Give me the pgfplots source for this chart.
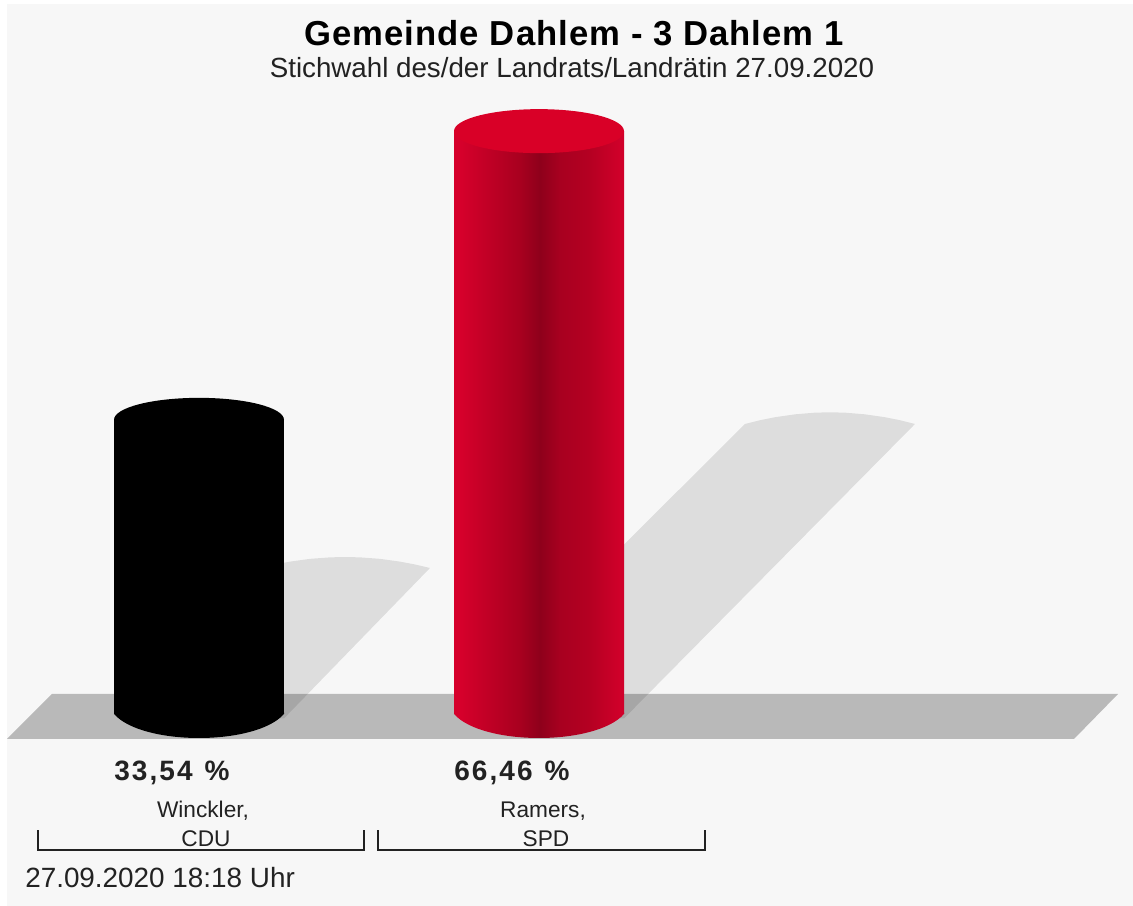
\documentclass[border=0pt]{standalone}
\usepackage{pgfplots}
\pgfplotsset{compat=1.18}
\usepackage{fontspec}
\setmainfont{Liberation Sans}
\newfontfamily\spaced[LetterSpace=3.0]{Liberation Sans}
\newfontfamily\spacedv[LetterSpace=7.5]{Liberation Sans}
\definecolor{bgc}{HTML}{F7F7F7}
\definecolor{floorc}{HTML}{B9B9B9}
\definecolor{redtop}{HTML}{D90027}
\definecolor{txt}{HTML}{222222}
\definecolor{ra}{HTML}{D6002B}
\definecolor{rb}{HTML}{BF0025}
\definecolor{rc}{HTML}{A8001F}
\definecolor{rd}{HTML}{8E001B}
\definecolor{re}{HTML}{A80020}
\definecolor{rf}{HTML}{B50022}
\definecolor{rg}{HTML}{D0002A}
\pgfdeclarehorizontalshading{redcyl}{100bp}{
  color(0bp)=(ra); color(26.8bp)=(ra);
  color(35.6bp)=(rb);
  color(44.4bp)=(rc);
  color(50.3bp)=(rd);
  color(56.2bp)=(re);
  color(65bp)=(rf);
  color(73.8bp)=(rg); color(100bp)=(rg)}
% ends of the cylinders (1 px = 0.75 pt): top is an ellipse, base a shallow lens
\pgfdeclareplotmark{cyltopred}{\pgfpathellipse{\pgfpointorigin}{\pgfqpoint{63.75pt}{0pt}}{\pgfqpoint{0pt}{16.5pt}}\pgfsetfillcolor{redtop}\pgfusepath{fill}}
\pgfdeclareplotmark{cyltopblack}{\pgfpathellipse{\pgfpointorigin}{\pgfqpoint{63.75pt}{0pt}}{\pgfqpoint{0pt}{16.5pt}}\pgfsetfillcolor{black}\pgfusepath{fill}}
\def\cylbasepath{\pgfpathmoveto{\pgfqpoint{-63.75pt}{1pt}}\pgfpathlineto{\pgfqpoint{-63.75pt}{0pt}}\pgfpathcurveto{\pgfqpoint{-42.5pt}{-24pt}}{\pgfqpoint{42.5pt}{-24pt}}{\pgfqpoint{63.75pt}{0pt}}\pgfpathlineto{\pgfqpoint{63.75pt}{1pt}}\pgfpathclose}
\pgfdeclareplotmark{cylbaseblack}{\cylbasepath\pgfsetfillcolor{black}\pgfusepath{fill}}
\pgfdeclareplotmark{cylbasered}{\cylbasepath\pgfshadepath{redcyl}{0}\pgfusepath{discard}}
\begin{document}
\begin{tikzpicture}
\begin{axis}[
  scale only axis, width=849.75pt, height=679.5pt,
  xmin=0, xmax=1133, ymin=-21.893, ymax=81.414,
  hide axis, clip=false, clip mode=individual,
  bar width=170, bar shift=0pt,
]
% page and panel
\addplot[fill=white, draw=none] coordinates {(0,-21.893) (1133,-21.893) (1133,81.414) (0,81.414)} -- cycle;
\addplot[fill=bgc, draw=none] coordinates {(7,-21.893) (1133,-21.893) (1133,80.96) (7,80.96)} -- cycle;
% floor
\addplot[fill=floorc, draw=none] coordinates {(7,-2.85) (52,2.28) (1118,2.28) (1074,-2.85)} -- cycle;
% shadows (half the height of the bar, slanted 45 degrees)
\addplot[fill=black, fill opacity=0.1, draw=none] coordinates {
 (114,0) (260,16.65) (275,17.05) (290,17.375) (310,17.69) (330,17.86) (345,17.9) (360,17.86) (380,17.69) (400,17.375) (415,17.05) (430,16.65) (284,-0.5)} -- cycle;
\addplot[fill=black, fill opacity=0.1, draw=none] coordinates {
 (454,0) (745,33.07) (760,33.5) (775,33.84) (795,34.17) (815,34.36) (830,34.4) (845,34.36) (865,34.17) (885,33.84) (900,33.5) (915,33.07) (624,-0.5)} -- cycle;
% black cylinder
\addplot[only marks, mark=cylbaseblack, mark options={draw=none}] coordinates {(199,0)};
\addplot[ybar, fill=black, draw=none] coordinates {(199,33.54)};
\addplot[only marks, mark=cyltopblack, mark options={draw=none}] coordinates {(199,33.54)};
% red cylinder
\addplot[only marks, mark=cylbasered, mark options={draw=none}] coordinates {(539,0)};
\addplot[ybar, shade, shading=redcyl, draw=none] coordinates {(539,66.46)};
\addplot[only marks, mark=cyltopred, mark options={draw=none}] coordinates {(539,66.46)};
% brackets
\addplot[txt, line width=1.1pt] coordinates {(38,-13.23) (38,-15.5) (364,-15.5) (364,-13.23)};
\addplot[txt, line width=1.1pt] coordinates {(378,-13.23) (378,-15.5) (705,-15.5) (705,-13.23)};
% text
\node[anchor=center, text=black, font=\fontsize{26pt}{30pt}\spaced\bfseries] at (axis cs:574,77.65) {Gemeinde Dahlem - 3 Dahlem 1};
\node[anchor=center, text=txt, font=\fontsize{20.8pt}{24pt}\selectfont] at (axis cs:572,73.65) {Stichwahl des/der Landrats/Landrätin 27.09.2020};
\node[anchor=west, inner sep=0pt, text=txt, font=\fontsize{21pt}{24pt}\spacedv\bfseries] at (axis cs:114,-6.7) {33,54\hspace{1.5pt} \%};
\node[anchor=west, inner sep=0pt, text=txt, font=\fontsize{21pt}{24pt}\spacedv\bfseries] at (axis cs:454,-6.7) {66,46\hspace{1.5pt} \%};
\node[anchor=center, inner sep=0pt, text=txt, font=\fontsize{17pt}{20pt}\selectfont] at (axis cs:203,-11.05) {Winckler,};
\node[anchor=center, inner sep=0pt, text=txt, font=\fontsize{17pt}{20pt}\selectfont] at (axis cs:206,-14.2) {CDU};
\node[anchor=center, inner sep=0pt, text=txt, font=\fontsize{17pt}{20pt}\selectfont] at (axis cs:543,-11.05) {Ramers,};
\node[anchor=center, inner sep=0pt, text=txt, font=\fontsize{17pt}{20pt}\selectfont] at (axis cs:546,-14.2) {SPD};
\node[anchor=west, inner sep=0pt, text=txt, font=\fontsize{20.9pt}{24pt}\selectfont] at (axis cs:25,-18.7) {27.09.2020 18:18 Uhr};
\end{axis}
\end{tikzpicture}
\end{document}
